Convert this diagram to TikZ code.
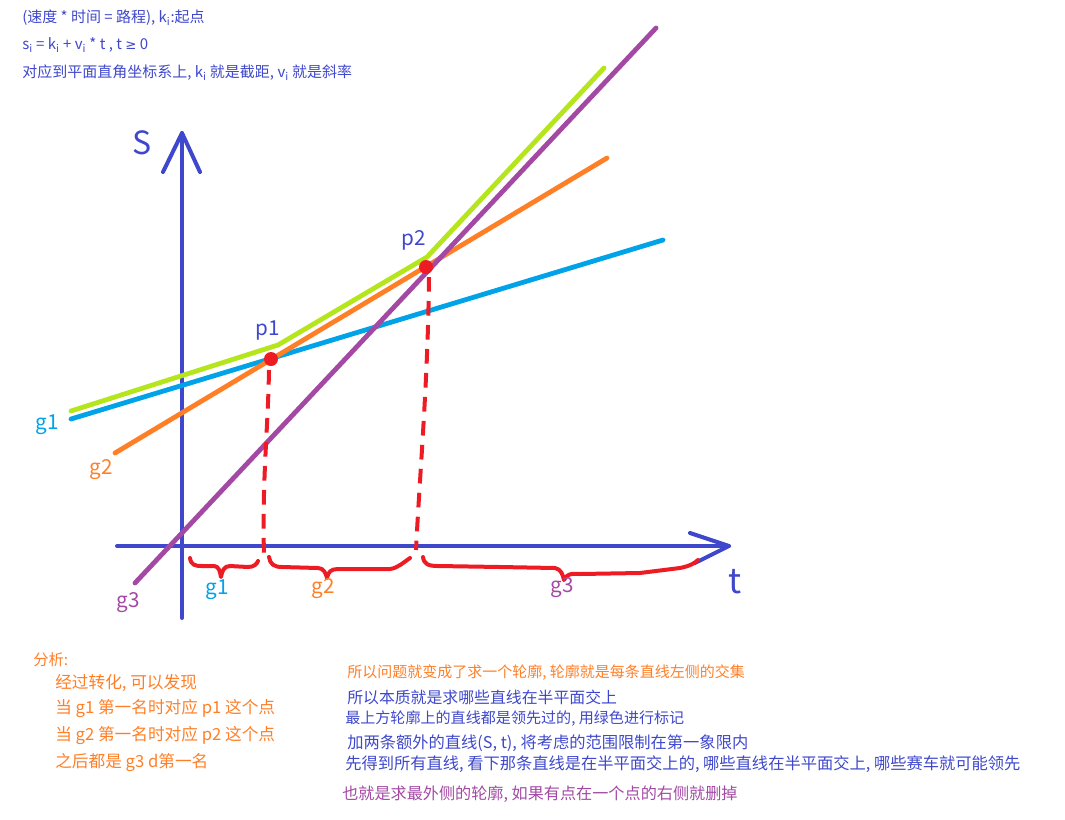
\documentclass[tikz,border=0pt]{standalone}
\usepackage{fontspec}
\setmainfont{Noto Sans CJK SC}
\newfontfamily\symfont{DejaVu Sans}
\definecolor{axblue}{HTML}{3F48CC}
\definecolor{lblue}{HTML}{00A2E8}
\definecolor{orng}{HTML}{FF7F27}
\definecolor{purp}{HTML}{A349A4}
\definecolor{limeg}{HTML}{B5E61D}
\definecolor{pred}{HTML}{ED1C24}
\newcommand\fs[1]{\fontsize{#1}{#1}\selectfont}
\newcommand\sbi{\textsubscript{i}}
\begin{document}
\begin{tikzpicture}[x=0.75pt,y=-0.75pt,
  txt/.style={anchor=west,inner sep=0pt},
  lbl/.style={inner sep=0pt,font=\fs{15.5pt}},
  ax/.style={axblue,line width=3pt,line cap=round,line join=round},
  ln/.style={line width=3.6pt,line cap=round,line join=round},
  brace/.style={pred,line width=3pt,line cap=round,line join=round},
  dsh/.style={pred,line width=3pt,dash pattern=on 11pt off 7pt},
  dot/.style={circle,fill=pred,inner sep=0pt,minimum size=10.5pt}]
\useasboundingbox (0,0) rectangle (1065,819);
% top text
\node[txt,axblue,font=\fs{11.25pt}] (t1) at (22,18) {(速度 * 时间 = 路程), k\sbi:起点};
\node[txt,axblue,font=\fs{11.25pt}] (t2) at (22,45) {s\sbi{} = k\sbi{} + v\sbi{} * t , t {\symfont\fs{10pt}≥} 0};
\node[txt,axblue,font=\fs{11.25pt}] (t3) at (22,73) {对应到平面直角坐标系上, k\sbi{} 就是截距, v\sbi{} 就是斜率};
% axes
\coordinate (ybot) at (182,618);
\coordinate (ytip) at (182,133);
\coordinate (ya) at (163,172);
\coordinate (yb) at (200,172);
\coordinate (xl) at (117,546);
\coordinate (xtip) at (729,546);
\coordinate (xa) at (690,533);
\coordinate (xb) at (695,563);
\draw[ax] (ybot) -- (ytip);
\draw[ax] (ya) -- (ytip) -- (yb);
\draw[ax] (xl) -- (xtip);
\draw[ax] (xa) -- (xtip) -- (xb);
\node[lbl,axblue,font=\fs{24pt}] (S) at (142,143) {S};
\node[lbl,axblue,font=\fs{26pt}] (T) at (735,582) {t};
% lines
\draw[ln,lblue] (71,419) -- (663,240);
\draw[ln,orng] (115,453) -- (607,158);
\draw[ln,purp] (135,583) -- (656,28);
\draw[ln,limeg] (71,411) -- (278,345) -- (427,257) -- (604,68);
% dashed drops
\coordinate (d1s) at (269,370);
\coordinate (d1) at (264,555);
\coordinate (d2s) at (429,277);
\coordinate (d2) at (416,550);
\draw[dsh] (d1s) .. controls (268,430) and (262,480) .. (d1);
\draw[dsh] (d2s) .. controls (428,380) and (420,470) .. (d2);
\node[dot] (p1) at (271,359) {};
\node[dot] (p2) at (426,267) {};
% braces
\draw[brace] (190,558) .. controls (191,565) and (195,566) .. (202,566) -- (214,566) .. controls (219,566) and (220,572) .. (221,577) .. controls (222,571) and (224,566) .. (230,566) -- (248,567) .. controls (254,567) and (257,564) .. (258,561);
\draw[brace] (269,557) .. controls (270,564) and (274,567) .. (282,567) -- (318,568) .. controls (324,568) and (326,574) .. (327,578) .. controls (328,572) and (331,569) .. (338,569) -- (390,569) .. controls (398,568) and (404,562) .. (410,558);
\draw[brace] (423,557) .. controls (424,564) and (428,566) .. (438,566) -- (500,567) -- (555,568) .. controls (561,569) and (563,575) .. (564,580) .. controls (566,575) and (570,573) .. (580,574) -- (640,573) -- (680,568) .. controls (690,566) and (695,563) .. (698,560);
% labels
\node[lbl,lblue] (lg1a) at (47,425) {g1};
\node[lbl,orng] (lg2a) at (101,470) {g2};
\node[lbl,purp] (lg3a) at (128,603) {g3};
\node[lbl,lblue] (lg1b) at (217,590) {g1};
\node[lbl,orng] (lg2b) at (323,589) {g2};
\node[lbl,purp] (lg3b) at (562,588) {g3};
\node[lbl,axblue] (lp1) at (268,330) {p1};
\node[lbl,axblue] (lp2) at (414,240) {p2};
% analysis
\node[txt,orng,font=\fs{11.5pt}] (a0) at (33,660) {分析:};
\node[txt,orng,font=\fs{12.5pt}] (a1) at (55,683) {经过转化, 可以发现};
\node[txt,orng,font=\fs{12.5pt}] (a2) at (55,709) {当 g1 第一名时对应 p1 这个点};
\node[txt,orng,font=\fs{12.5pt}] (a3) at (55,736) {当 g2 第一名时对应 p2 这个点};
\node[txt,orng,font=\fs{12.5pt}] (a4) at (55,763) {之后都是 g3 d第一名};
% right text
\node[txt,orng,font=\fs{11.25pt}] (r0) at (347,673) {所以问题就变成了求一个轮廓, 轮廓就是每条直线左侧的交集};
\node[txt,axblue,font=\fs{11.9pt}] (r1) at (347,697) {所以本质就是求哪些直线在半平面交上};
\node[txt,axblue,font=\fs{11.3pt}] (r2) at (345,719) {最上方轮廓上的直线都是领先过的, 用绿色进行标记};
\node[txt,axblue,font=\fs{12.2pt}] (r3) at (347,743) {加两条额外的直线(S, t), 将考虑的范围限制在第一象限内};
\node[txt,axblue,font=\fs{12.2pt}] (r4) at (345,764) {先得到所有直线, 看下那条直线是在半平面交上的, 哪些直线在半平面交上, 哪些赛车就可能领先};
\node[txt,purp,font=\fs{12.1pt}] (r5) at (342,794) {也就是求最外侧的轮廓, 如果有点在一个点的右侧就删掉};
\end{tikzpicture}
\end{document}
